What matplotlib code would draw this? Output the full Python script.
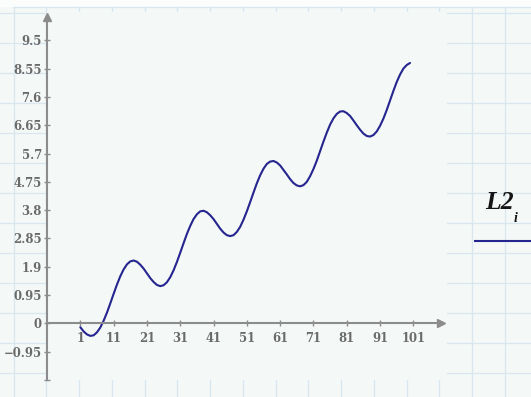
import matplotlib
matplotlib.use("Agg")
import matplotlib.pyplot as plt
import numpy as np

# Series L2 indexed by i = 1..100
index_i = np.arange(1, 101)
L2 = [
    -0.13, -0.27, -0.37, -0.42, -0.40, -0.30, -0.14, 0.09, 0.36, 0.67,
    0.99, 1.30, 1.58, 1.81, 1.98, 2.08, 2.11, 2.07, 1.97, 1.84,
    1.68, 1.52, 1.39, 1.29, 1.25, 1.28, 1.38, 1.55, 1.78, 2.06,
    2.37, 2.69, 3.00, 3.27, 3.50, 3.66, 3.76, 3.78, 3.73, 3.63,
    3.50, 3.34, 3.18, 3.05, 2.96, 2.93, 2.96, 3.07, 3.24, 3.48,
    3.76, 4.07, 4.39, 4.70, 4.97, 5.19, 5.35, 5.43, 5.45, 5.40,
    5.30, 5.15, 5.00, 4.84, 4.71, 4.63, 4.60, 4.64, 4.75, 4.94,
    5.18, 5.46, 5.78, 6.10, 6.40, 6.67, 6.88, 7.03, 7.11, 7.12,
    7.06, 6.96, 6.81, 6.65, 6.50, 6.37, 6.29, 6.27, 6.32, 6.44,
    6.63, 6.87, 7.16, 7.48, 7.80, 8.10, 8.35, 8.55, 8.67, 8.74,
]

x_ticks = [1, 11, 21, 31, 41, 51, 61, 71, 81, 91, 101]
y_ticks = [-1.9, -0.95, 0, 0.95, 1.9, 2.85, 3.8, 4.75, 5.7, 6.65, 7.6, 8.55, 9.5]
y_tick_labels = ["", "\u22120.95", "0", "0.95", "1.9", "2.85", "3.8", "4.75",
                 "5.7", "6.65", "7.6", "8.55", "9.5"]
legend_name = "L2"
legend_sub = "i"

W, H = 531, 397
BG = "#f4f8f6"
GRID = "#d8e7ef"
AXIS = "#8c8c8c"
LABEL = "#6a6a6a"
CURVE = "#25258f"

fig = plt.figure(figsize=(W / 100, H / 100), dpi=100, facecolor=BG)

# worksheet background with its faint grid, in pixel coordinates
bg = fig.add_axes([0, 0, 1, 1], zorder=0)
bg.set_xlim(0, W)
bg.set_ylim(H, 0)
bg.axis("off")
bg.set_facecolor(BG)
bg.fill_between([0, W], 0, 7, color="#fbfdfc", lw=0)
for k in range(16):
    gx = 13.5 + 32.75 * k
    bg.plot([gx, gx], [7, H], color=GRID, lw=0.9)
bg.plot([13, W], [7, 7], color=GRID, lw=0.9)
for k in range(13):
    gy = 12.5 + 30.05 * k
    bg.plot([0, W], [gy, gy], color=GRID, lw=0.9)

# legend entry
bg.text(485, 209, legend_name, family="Liberation Serif", fontweight="bold",
        fontstyle="italic", fontsize=18.5, color="#151515", ha="left", va="baseline")
bg.text(514, 222, legend_sub, family="Liberation Serif", fontweight="bold",
        fontstyle="italic", fontsize=10, color="#151515", ha="left", va="baseline")
bg.plot([474, W], [240.7, 240.7], color=CURVE, lw=1.5, solid_capstyle="butt")

# plot region
left, right, top, bottom = 47, 447, 12, 380
ax = fig.add_axes([left / W, (H - bottom) / H, (right - left) / W, (bottom - top) / H],
                  zorder=1)
ax.set_facecolor(BG)
ax.set_xlim(-9, 111.1)
ax.set_ylim(-1.9, 10.45)

ax.plot(index_i, L2, color=CURVE, lw=1.5, solid_capstyle="round")

for s in ("top", "right"):
    ax.spines[s].set_visible(False)
ax.spines["bottom"].set_position(("data", 0))
ax.spines["bottom"].set_bounds(-9, 109.5)
ax.spines["left"].set_bounds(-1.9, 10.3)
for s in ("bottom", "left"):
    ax.spines[s].set_color(AXIS)
    ax.spines[s].set_linewidth(1.5)

# arrow heads
ax.plot([109.4], [0], marker=">", markersize=5.5, color=AXIS, clip_on=False, zorder=5)
ax.plot([-9], [10.285], marker="^", markersize=5.5, color=AXIS, clip_on=False, zorder=5)

ax.set_xticks(x_ticks)
ax.set_xticklabels([str(v) for v in x_ticks])
ax.set_yticks(y_ticks)
ax.set_yticklabels(y_tick_labels)
ax.tick_params(axis="both", direction="inout", length=4.5, width=1, color=AXIS,
               labelcolor=LABEL, labelsize=8.4)
ax.tick_params(axis="x", pad=4)
ax.tick_params(axis="y", pad=1.5)
for lab in ax.get_xticklabels() + ax.get_yticklabels():
    lab.set_family("DejaVu Serif")
    lab.set_fontweight("bold")

fig.savefig("out.png", dpi=100, facecolor=BG)
